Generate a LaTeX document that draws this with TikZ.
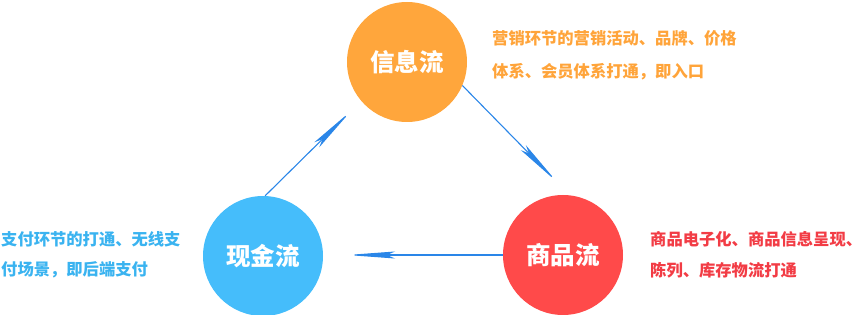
\documentclass[tikz,border=0pt]{standalone}
\usepackage{fontspec}
\setmainfont{Noto Sans CJK SC}
\usetikzlibrary{arrows.meta}
\definecolor{corange}{HTML}{FFA63C}
\definecolor{cred}{HTML}{FF4A4A}
\definecolor{cblue}{HTML}{45BDFB}
\definecolor{torange}{HTML}{FFA43A}
\definecolor{tred}{HTML}{F23C45}
\definecolor{tblue}{HTML}{3AB3F0}
\definecolor{carrow}{HTML}{2A86E8}
\tikzset{
  flow/.style={circle, minimum size=120pt, inner sep=0pt, text=white, font=\fontsize{24.5}{25}\selectfont\bfseries},
  desc/.style={anchor=west, inner sep=0pt, font=\fontsize{16.3}{17}\selectfont\bfseries},
  link/.style={carrow, line width=1.1pt, -{Stealth[length=48pt, width=7pt, inset=8pt]}}
}
\begin{document}
\begin{tikzpicture}[x=1pt,y=-1pt]
\useasboundingbox (0,0) rectangle (852,315);
\node[flow, fill=corange] (xx) at (407,62) {信息流};
\node[flow, fill=cred] (sp) at (563,255) {商品流};
\node[flow, fill=cblue] (xj) at (263,256) {现金流};
\node[desc, text=torange] (t1a) at (492,38) {营销环节的营销活动、品牌、价格};
\node[desc, text=torange] (t1b) at (492,72) {体系、会员体系打通，即入口};
\node[desc, text=tred] (t2a) at (650,239) {商品电子化、商品信息呈现、};
\node[desc, text=tred] (t2b) at (650,270) {陈列、库存物流打通};
\node[desc, text=tblue] (t3a) at (1,239) {支付环节的打通、无线支};
\node[desc, text=tblue] (t3b) at (1,270) {付场景，即后端支付};
\coordinate (e1) at (351,111);
\coordinate (e2) at (557,182);
\coordinate (e3) at (347,255);
\draw[link] (xj.88) -- (e1);
\draw[link] (xx.-23) -- (e2);
\draw[link] (sp.west) -- (e3);
\end{tikzpicture}
\end{document}
